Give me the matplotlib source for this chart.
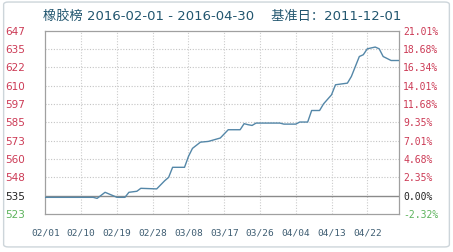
import numpy as np
import pandas as pd
import matplotlib
matplotlib.use("Agg")
import matplotlib.pyplot as plt
from matplotlib.patches import FancyBboxPatch

plt.rcParams['font.family'] = ['DejaVu Sans', 'Noto Sans CJK SC']

# ---- data --------------------------------------------------------------
dates = ["2016-02-01", "2016-02-13", "2016-02-14", "2016-02-16", "2016-02-19",
         "2016-02-21", "2016-02-22", "2016-02-24", "2016-02-25", "2016-02-29",
         "2016-03-02", "2016-03-03", "2016-03-04", "2016-03-07", "2016-03-08",
         "2016-03-09", "2016-03-11", "2016-03-13", "2016-03-16", "2016-03-18",
         "2016-03-21", "2016-03-22", "2016-03-23", "2016-03-24", "2016-03-25",
         "2016-03-31", "2016-04-01", "2016-04-04", "2016-04-05", "2016-04-07",
         "2016-04-08", "2016-04-10", "2016-04-11", "2016-04-13", "2016-04-14",
         "2016-04-17", "2016-04-18", "2016-04-20", "2016-04-21", "2016-04-22",
         "2016-04-24", "2016-04-25", "2016-04-26", "2016-04-28", "2016-04-30"]
values = [534.3, 534.3, 533.6, 537.7, 534.3,
          534.3, 537.7, 538.4, 540.4, 540.0,
          545.5, 547.8, 554.6, 554.6, 562.0,
          567.4, 571.6, 572.1, 574.4, 580.0,
          580.0, 584.1, 583.4, 582.9, 584.5,
          584.5, 583.8, 583.8, 585.2, 585.2,
          593.0, 593.0, 597.5, 603.6, 610.4,
          611.5, 616.0, 629.5, 630.7, 634.7,
          635.9, 634.7, 629.5, 626.8, 626.8]

left_labels = ["523", "535", "548", "560", "573", "585", "597", "610", "622", "635", "647"]
right_labels = ["-2.32%", "0.00%", "2.35%", "4.68%", "7.01%", "9.35%",
                "11.68%", "14.01%", "16.34%", "18.68%", "21.01%"]
x_labels = ["02/01", "02/10", "02/19", "02/28", "03/08", "03/17",
            "03/26", "04/04", "04/13", "04/22"]
base_value = 535
title = "橡胶榜 2016-02-01 - 2016-04-30    基准日：2011-12-01"

RED = "#cc3a55"
GREEN = "#5cb35c"
LINE = "#5487a8"
TXT = "#22566f"
XTXT = "#3e5d72"

# ---- figure ------------------------------------------------------------
d = pd.to_datetime(dates)
start = pd.Timestamp("2016-02-01")
days = (d - start).days.values

fig = plt.figure(figsize=(4.53, 2.53), dpi=100)
fig.patch.set_facecolor("white")
fig.patches.append(FancyBboxPatch((0.008, 0.02), 0.984, 0.968,
                                  boxstyle="round,pad=0,rounding_size=0.01",
                                  transform=fig.transFigure, fc="none",
                                  ec="#cdd5da", lw=1.0, zorder=-5))

ax = fig.add_axes([0.1004, 0.150, 0.7805, 0.725])
ax.set_facecolor("white")
ax.plot(days, values, color=LINE, lw=1.0, zorder=3)

ax.set_xlim(0, 89)
ax.set_ylim(523, 647)
yt = np.linspace(523, 647, len(left_labels))
ax.set_yticks(yt)
ax.set_yticklabels([])
xt = np.arange(0, 9 * len(x_labels), 9)
ax.set_xticks(xt)
ax.set_xticklabels(x_labels, fontsize=6.8, color=XTXT, family="DejaVu Sans Mono")
ax.tick_params(length=0, pad=10)

for s in ax.spines.values():
    s.set_color("#a0a0a0")
    s.set_linewidth(0.9)

for y in yt[2:-1]:
    ax.axhline(y, color="#c4c4c4", lw=0.8, ls=(0, (1, 1.5)), zorder=1)
for x in xt[1:]:
    ax.axvline(x, color="#cccccc", lw=0.8, ls=(0, (1, 1.5)), zorder=1)
ax.axhline(base_value, color="#8a8a8a", lw=1.0, zorder=2)

# tick labels, coloured by sign relative to the base
for y, ll, rl in zip(yt, left_labels, right_labels):
    c = "#222222" if int(ll) == base_value else (RED if int(ll) > base_value else GREEN)
    ax.text(-0.115, y, ll, transform=ax.get_yaxis_transform(), ha="left",
            va="center", fontsize=7.5, color=c, family="DejaVu Sans")
    ax.text(1.012, y, rl, transform=ax.get_yaxis_transform(), ha="left",
            va="center", fontsize=7, color=c, family="DejaVu Sans Mono")

fig.text(0.49, 0.935, title, ha="center", va="center", fontsize=9.5, color=TXT)

fig.savefig("out.png", dpi=100, facecolor="white")
